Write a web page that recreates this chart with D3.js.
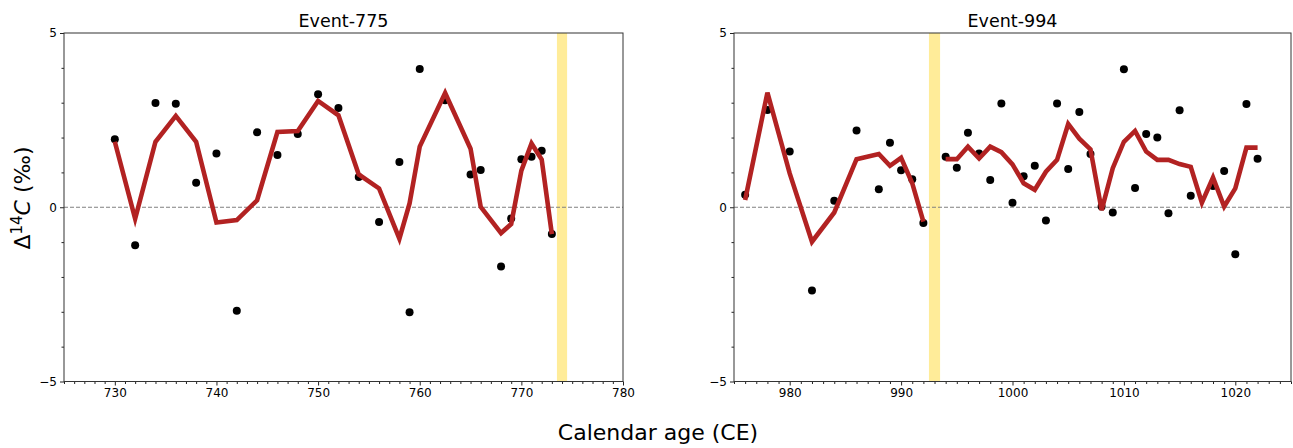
<!DOCTYPE html>
<html>
<head>
<meta charset="utf-8">
<script src="https://cdn.jsdelivr.net/npm/d3@7"></script>
<style>
  html, body { margin: 0; padding: 0; background: #fff; }
  svg { display: block; font-family: "DejaVu Sans", sans-serif; }
</style>
</head>
<body>
<svg id="chart" width="1293" height="448"></svg>
<script>
// Event-775 panel: annual Δ14C measurements and the smoothed fit
const years775 = [730, 732, 734, 736, 738, 740, 742, 744, 746, 748, 750, 752, 754, 756, 758, 759, 760, 762.5, 765, 766, 768, 769, 770, 771, 772, 773];
const obs775   = [1.95, -1.09, 2.99, 2.97, 0.70, 1.54, -2.97, 2.15, 1.50, 2.10, 3.24, 2.85, 0.87, -0.42, 1.30, -3.01, 3.97, 3.07, 0.94, 1.07, -1.70, -0.32, 1.38, 1.45, 1.62, -0.77];
const fit775   = [1.88, -0.33, 1.88, 2.62, 1.88, -0.44, -0.37, 0.20, 2.16, 2.19, 3.05, 2.64, 0.94, 0.54, -0.90, 0.11, 1.74, 3.28, 1.68, 0.01, -0.74, -0.48, 1.05, 1.83, 1.37, -0.77];

// Event-994 panel (measurements; fit has a value every year)
const obsYears994 = [976, 978, 980, 982, 984, 986, 988, 989, 990, 991, 992, 994, 995, 996, 997, 998, 999, 1000, 1001, 1002, 1003, 1004, 1005, 1006, 1007, 1008, 1009, 1010, 1011, 1012, 1013, 1014, 1015, 1016, 1018, 1019, 1020, 1021, 1022];
const obs994      = [0.36, 2.79, 1.60, -2.39, 0.19, 2.20, 0.52, 1.85, 1.06, 0.80, -0.45, 1.45, 1.13, 2.14, 1.54, 0.78, 2.98, 0.13, 0.89, 1.19, -0.38, 2.98, 1.10, 2.73, 1.53, 0.02, -0.15, 3.96, 0.55, 2.10, 2.00, -0.17, 2.78, 0.33, 0.61, 1.04, -1.35, 2.96, 1.39];
const fitYears994 = [976, 978, 980, 982, 984, 986, 988, 989, 990, 991, 992, 994, 995, 996, 997, 998, 999, 1000, 1001, 1002, 1003, 1004, 1005, 1006, 1007, 1008, 1009, 1010, 1011, 1012, 1013, 1014, 1015, 1016, 1017, 1018, 1019, 1020, 1021, 1022];
const fit994      = [0.21, 3.29, 0.97, -0.99, -0.15, 1.38, 1.53, 1.19, 1.42, 0.69, -0.41, 1.38, 1.38, 1.74, 1.40, 1.74, 1.58, 1.23, 0.69, 0.50, 1.02, 1.36, 2.39, 1.97, 1.66, -0.08, 1.12, 1.88, 2.19, 1.60, 1.36, 1.36, 1.24, 1.16, 0.13, 0.85, 0.02, 0.54, 1.71, 1.71];

// Axis ranges and ticks
const yDomain = [-5, 5];
const yMajorTicks = [-5, 0, 5];
const yMinorTicks = [-4, -3, -2, -1, 1, 2, 3, 4];
const xDomain775 = [725, 780];
const xMajor775 = [730, 740, 750, 760, 770, 780];
const xDomain994 = [975, 1025];
const xMajor994 = [980, 990, 1000, 1010, 1020];

const panels = [
  { title: "Event-775", obsYears: years775, obs: obs775, fitYears: years775, fit: fit775,
    xDomain: xDomain775, xMajor: xMajor775, event: 774, left: 64, right: 623 },
  { title: "Event-994", obsYears: obsYears994, obs: obs994, fitYears: fitYears994, fit: fit994,
    xDomain: xDomain994, xMajor: xMajor994, event: 993, left: 734, right: 1291 }
];

const plotTop = 33, plotBottom = 381.5;
const svg = d3.select("#chart");

const y = d3.scaleLinear().domain(yDomain).range([plotBottom, plotTop]);

panels.forEach(p => {
  const x = d3.scaleLinear().domain(p.xDomain).range([p.left, p.right]);
  const g = svg.append("g");

  // highlighted event year
  g.append("rect")
    .attr("x", x(p.event - 0.5))
    .attr("width", x(p.event + 0.5) - x(p.event - 0.5))
    .attr("y", plotTop).attr("height", plotBottom - plotTop)
    .attr("fill", "#ffec99");

  // zero reference
  g.append("line")
    .attr("x1", p.left).attr("x2", p.right)
    .attr("y1", y(0)).attr("y2", y(0))
    .attr("stroke", "#808080").attr("stroke-width", 1)
    .attr("stroke-dasharray", "4,2");

  // observations
  g.selectAll("circle.obs").data(p.obsYears.map((yr, i) => [yr, p.obs[i]]))
    .enter().append("circle")
    .attr("class", "obs")
    .attr("cx", d => x(d[0])).attr("cy", d => y(d[1]))
    .attr("r", 4).attr("fill", "#000");

  // fitted curve, broken at the event year
  const pts = p.fitYears.map((yr, i) => [yr, p.fit[i]]);
  const line = d3.line().x(d => x(d[0])).y(d => y(d[1]));
  const segs = [pts.filter(d => d[0] < p.event), pts.filter(d => d[0] > p.event)].filter(s => s.length > 1);
  segs.forEach(s => {
    g.append("path").datum(s)
      .attr("d", line)
      .attr("fill", "none")
      .attr("stroke", "#b22222")
      .attr("stroke-width", 4.6)
      .attr("stroke-linejoin", "miter")
      .attr("stroke-linecap", "butt");
  });

  // x axis: labelled decades plus yearly minor ticks
  const xMinor = d3.range(Math.ceil(p.xDomain[0]), p.xDomain[1] + 0.001, 1).filter(v => !p.xMajor.includes(v));
  const xa = g.append("g").attr("transform", `translate(0,${plotBottom})`)
    .call(d3.axisBottom(x).tickValues(p.xMajor).tickFormat(d3.format("d")).tickSize(4).tickSizeOuter(0).tickPadding(3));
  const xm = g.append("g").attr("transform", `translate(0,${plotBottom})`)
    .call(d3.axisBottom(x).tickValues(xMinor).tickFormat("").tickSize(2.5).tickSizeOuter(0));

  // y axis
  const ya = g.append("g").attr("transform", `translate(${p.left},0)`)
    .call(d3.axisLeft(y).tickValues(yMajorTicks).tickSize(4).tickSizeOuter(0).tickPadding(3));
  const ym = g.append("g").attr("transform", `translate(${p.left},0)`)
    .call(d3.axisLeft(y).tickValues(yMinorTicks).tickFormat("").tickSize(2.5).tickSizeOuter(0));

  [xa, xm, ya, ym].forEach(a => {
    a.select(".domain").remove();
    a.selectAll(".tick line").attr("stroke", "#222").attr("stroke-width", 1);
    a.selectAll(".tick text").attr("font-size", 12).attr("fill", "#000")
      .attr("font-family", "DejaVu Sans, sans-serif");
  });

  // frame
  g.append("rect")
    .attr("x", p.left).attr("y", plotTop)
    .attr("width", p.right - p.left).attr("height", plotBottom - plotTop)
    .attr("fill", "none").attr("stroke", "#333").attr("stroke-width", 1);

  // title
  g.append("text")
    .attr("x", (p.left + p.right) / 2).attr("y", 27)
    .attr("text-anchor", "middle")
    .attr("font-size", 17.5).attr("fill", "#000")
    .text(p.title);
});

// shared axis labels
svg.append("text")
  .attr("x", 658).attr("y", 440)
  .attr("text-anchor", "middle")
  .attr("font-size", 22).attr("fill", "#000")
  .text("Calendar age (CE)");

const yl = svg.append("text")
  .attr("transform", "translate(30,198) rotate(-90)")
  .attr("text-anchor", "middle")
  .attr("font-size", 22).attr("fill", "#000");
yl.append("tspan").text("Δ");
yl.append("tspan").attr("font-size", 15).attr("dy", -8).text("14");
yl.append("tspan").attr("font-style", "italic").attr("dy", 8).text("C");
yl.append("tspan").text(" (‰)");
</script>
</body>
</html>
